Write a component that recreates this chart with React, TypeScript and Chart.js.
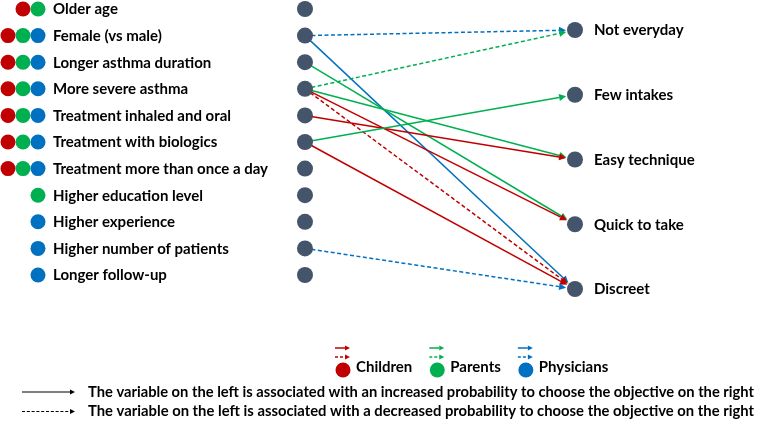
import { useEffect, useRef } from 'react';
import { Chart, registerables } from 'chart.js';

Chart.register(...registerables);

// ---- Data ----
const leftFactors = [
  'Older age',
  'Female (vs male)',
  'Longer asthma duration',
  'More severe asthma',
  'Treatment inhaled and oral',
  'Treatment with biologics',
  'Treatment more than once a day',
  'Higher education level',
  'Higher experience',
  'Higher number of patients',
  'Longer follow-up',
];

const factorGroups = [
  ['Children', 'Parents'],
  ['Children', 'Parents', 'Physicians'],
  ['Children', 'Parents', 'Physicians'],
  ['Children', 'Parents', 'Physicians'],
  ['Children', 'Parents', 'Physicians'],
  ['Children', 'Parents', 'Physicians'],
  ['Children', 'Parents', 'Physicians'],
  ['Parents'],
  ['Physicians'],
  ['Physicians'],
  ['Physicians'],
];

const objectives = ['Not everyday', 'Few intakes', 'Easy technique', 'Quick to take', 'Discreet'];

const groups = ['Children', 'Parents', 'Physicians'];
const groupColors = ['#C00000', '#00B050', '#0070C0'];

const linkFrom = [
  'Female (vs male)',
  'Female (vs male)',
  'Longer asthma duration',
  'More severe asthma',
  'More severe asthma',
  'More severe asthma',
  'More severe asthma',
  'Treatment inhaled and oral',
  'Treatment with biologics',
  'Treatment with biologics',
  'Higher number of patients',
];
const linkTo = [
  'Not everyday',
  'Discreet',
  'Quick to take',
  'Not everyday',
  'Easy technique',
  'Quick to take',
  'Discreet',
  'Easy technique',
  'Few intakes',
  'Discreet',
  'Discreet',
];
const linkGroup = [
  'Physicians',
  'Physicians',
  'Parents',
  'Parents',
  'Parents',
  'Children',
  'Children',
  'Children',
  'Parents',
  'Children',
  'Physicians',
];
const linkEffect = [
  'decreased',
  'increased',
  'increased',
  'decreased',
  'increased',
  'increased',
  'decreased',
  'increased',
  'increased',
  'increased',
  'decreased',
];

const noteEffects = ['increased', 'decreased'];
const noteTexts = [
  'The variable on the left is associated with an increased probability to choose the objective on the right',
  'The variable on the left is associated with a decreased probability to choose the objective on the right',
];

const NODE_COLOR = '#44546A';
const FONT = 'Lato, "Open Sans", sans-serif';

function drawArrow(
  ctx: CanvasRenderingContext2D,
  x1: number, y1: number, x2: number, y2: number,
  color: string, dashed: boolean, lw: number, head: number, dash: number[]
) {
  const ang = Math.atan2(y2 - y1, x2 - x1);
  const c = Math.cos(ang);
  const s = Math.sin(ang);
  const bx = x2 - head * c;
  const by = y2 - head * s;
  ctx.save();
  ctx.strokeStyle = color;
  ctx.fillStyle = color;
  ctx.lineWidth = lw;
  ctx.setLineDash(dashed ? dash : []);
  ctx.beginPath();
  ctx.moveTo(x1, y1);
  ctx.lineTo(bx, by);
  ctx.stroke();
  ctx.setLineDash([]);
  const hw = head * 0.5;
  ctx.beginPath();
  ctx.moveTo(x2, y2);
  ctx.lineTo(bx - hw * s, by + hw * c);
  ctx.lineTo(bx + hw * s, by - hw * c);
  ctx.closePath();
  ctx.fill();
  ctx.restore();
}

export default function App() {
  const ref = useRef<HTMLCanvasElement>(null);

  useEffect(() => {
    const canvas = ref.current;
    if (!canvas) return;

    const diagramPlugin = {
      id: 'diagram',
      beforeDatasetsDraw(chart: any) {
        const ctx: CanvasRenderingContext2D = chart.ctx;
        const xs = chart.scales.x;
        const ys = chart.scales.y;
        const ys2 = chart.scales.y2;
        const rTarget = 9;
        linkFrom.forEach((from, k) => {
          const i = leftFactors.indexOf(from);
          const j = objectives.indexOf(linkTo[k]);
          const x1 = xs.getPixelForValue(0);
          const y1 = ys.getPixelForValue(i);
          const cx = xs.getPixelForValue(1);
          const cy = ys2.getPixelForValue(j);
          const ang = Math.atan2(cy - y1, cx - x1);
          const x2 = cx - rTarget * Math.cos(ang);
          const y2 = cy - rTarget * Math.sin(ang);
          const color = groupColors[groups.indexOf(linkGroup[k])];
          drawArrow(ctx, x1, y1, x2, y2, color, linkEffect[k] === 'decreased', 1.5, 7, [4, 2.5]);
        });
      },
      afterDraw(chart: any) {
        const ctx: CanvasRenderingContext2D = chart.ctx;
        const xs = chart.scales.x;
        const ys = chart.scales.y;
        const ys2 = chart.scales.y2;
        ctx.save();
        ctx.textBaseline = 'middle';
        ctx.fillStyle = '#000';

        // left labels and group dots
        const leftX = xs.getPixelForValue(0);
        const labelX = leftX - 252;
        leftFactors.forEach((lab, i) => {
          const y = ys.getPixelForValue(i);
          ctx.font = `bold 15px ${FONT}`;
          ctx.fillStyle = '#000';
          ctx.textAlign = 'left';
          ctx.fillText(lab, labelX, y + 0.5);
          const gs = factorGroups[i];
          gs.forEach((g, n) => {
            const cx = labelX - 15 - (gs.length - 1 - n) * 15;
            ctx.beginPath();
            ctx.arc(cx, y, 7.5, 0, Math.PI * 2);
            ctx.fillStyle = groupColors[groups.indexOf(g)];
            ctx.fill();
          });
        });

        // right labels
        const rightX = xs.getPixelForValue(1);
        ctx.fillStyle = '#000';
        ctx.font = `bold 15px ${FONT}`;
        objectives.forEach((lab, j) => {
          ctx.fillText(lab, rightX + 19, ys2.getPixelForValue(j) + 0.5);
        });

        // group legend
        let gx = 335;
        const gy = 370;
        groups.forEach((g, n) => {
          const col = groupColors[n];
          drawArrow(ctx, gx, 348, gx + 15, 348, col, false, 1.5, 5, [3, 2]);
          drawArrow(ctx, gx, 357, gx + 15, 357, col, true, 1.5, 5, [3, 2]);
          ctx.beginPath();
          ctx.arc(gx + 8, gy, 7.5, 0, Math.PI * 2);
          ctx.fillStyle = col;
          ctx.fill();
          ctx.fillStyle = '#000';
          ctx.font = `bold 15px ${FONT}`;
          ctx.textAlign = 'left';
          ctx.fillText(g, gx + 21, gy - 3);
          gx += 21 + ctx.measureText(g).width + 17;
        });

        // effect notes
        noteTexts.forEach((t, n) => {
          const y = 392 + n * 19.5;
          drawArrow(ctx, 22, y, 75, y, '#000', noteEffects[n] === 'decreased', 1.2, 5, [3, 1.8]);
          ctx.fillStyle = '#000';
          ctx.font = `bold 15px ${FONT}`;
          ctx.textAlign = 'left';
          ctx.fillText(t, 88, y, 666);
        });
        ctx.restore();
      },
    };

    const chart = new Chart(canvas, {
      type: 'scatter',
      data: {
        datasets: [
          {
            label: 'Factors',
            data: leftFactors.map((_, i) => ({ x: 0, y: i })),
            yAxisID: 'y',
            pointRadius: 8,
            pointBackgroundColor: NODE_COLOR,
            pointBorderColor: NODE_COLOR,
            pointBorderWidth: 0,
          },
          {
            label: 'Objectives',
            data: objectives.map((_, j) => ({ x: 1, y: j })),
            yAxisID: 'y2',
            pointRadius: 8,
            pointBackgroundColor: NODE_COLOR,
            pointBorderColor: NODE_COLOR,
            pointBorderWidth: 0,
          },
        ],
      },
      options: {
        responsive: false,
        animation: false,
        events: [],
        layout: { padding: 0, autoPadding: false },
        plugins: { legend: { display: false }, tooltip: { enabled: false }, title: { display: false } },
        scales: {
          x: { type: 'linear', display: false, min: -1.1296, max: 1.6852 },
          y: { type: 'linear', display: false, reverse: true, min: -0.3383, max: 15.4887 },
          y2: { type: 'linear', display: false, reverse: true, min: -0.4633, max: 6.0386 },
        },
      },
      plugins: [diagramPlugin],
    });
    return () => chart.destroy();
  }, []);

  return (
    <div style={{ position: 'fixed', left: 0, top: 0, width: 760, height: 421, background: '#fff' }}>
      <canvas ref={ref} width={760} height={421} style={{ display: 'block' }} />
    </div>
  );
}
